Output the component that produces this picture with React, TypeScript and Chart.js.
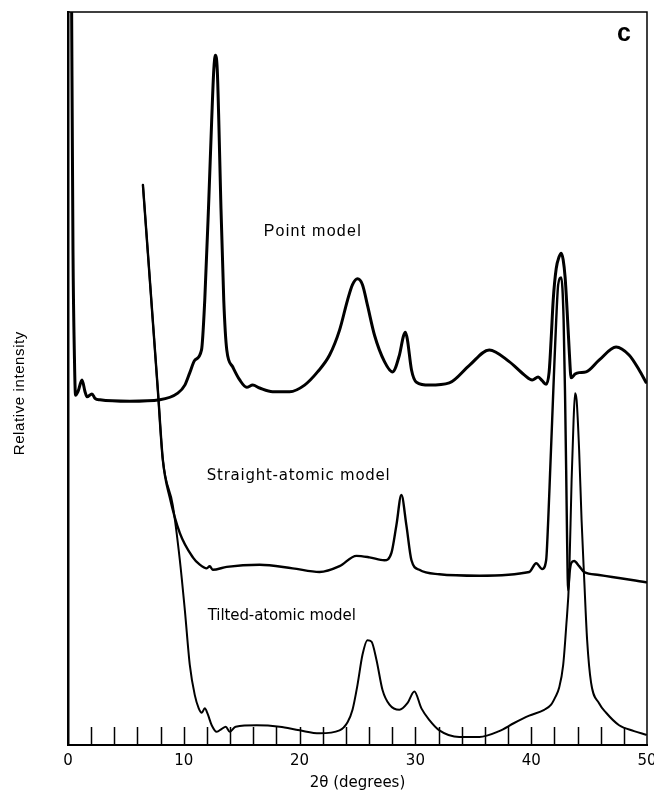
import React, { useEffect, useRef } from 'react';
import { Chart, registerables } from 'chart.js';

Chart.register(...registerables);

// ---- Data (2θ in degrees, relative intensity in arbitrary units 0–100) ----
const pointX = [0.30, 0.43, 0.56, 0.65, 0.86, 1.21, 1.47, 1.64, 2.07, 2.33, 2.76, 5.34, 7.93, 9.48, 10.09, 10.52, 10.95, 11.53, 11.81, 12.16, 12.41, 12.59, 12.73, 12.89, 13.02, 13.19, 13.45, 13.71, 14.22, 14.83, 15.43, 15.95, 16.55, 17.67, 19.14, 20.43, 21.55, 22.59, 23.45, 24.14, 24.57, 25.00, 25.43, 25.86, 26.47, 27.33, 28.02, 28.62, 28.97, 29.14, 29.31, 29.66, 30.09, 31.21, 32.93, 34.66, 36.38, 38.10, 39.40, 40.09, 40.60, 40.95, 41.29, 41.55, 41.72, 41.90, 42.16, 42.41, 42.59, 42.76, 42.93, 43.10, 43.28, 43.45, 43.79, 44.14, 44.74, 45.86, 47.33, 48.45, 49.31, 49.91];
const pointY = [104.4, 67.5, 52.5, 47.7, 48.2, 49.8, 48.2, 47.5, 47.9, 47.3, 47.1, 46.9, 47.1, 48.0, 49.1, 50.8, 52.5, 53.9, 60.7, 74.4, 85.3, 92.1, 94.1, 92.1, 85.3, 74.4, 60.7, 53.9, 51.6, 49.8, 48.8, 49.1, 48.7, 48.2, 48.2, 49.1, 50.9, 53.2, 56.6, 60.7, 62.8, 63.6, 62.8, 60.0, 55.9, 52.3, 50.9, 53.2, 55.8, 56.3, 55.3, 51.2, 49.5, 49.1, 49.4, 51.8, 53.9, 52.3, 50.5, 49.8, 50.2, 49.7, 49.2, 50.9, 55.3, 60.7, 65.0, 66.6, 67.1, 66.2, 63.8, 59.3, 53.9, 50.1, 50.6, 50.8, 50.9, 52.5, 54.3, 53.2, 51.2, 49.5];

const straightX = [6.47, 7.76, 8.19, 8.79, 9.66, 10.78, 11.38, 11.98, 12.24, 12.50, 13.71, 16.55, 19.40, 21.72, 23.45, 24.91, 26.03, 27.33, 27.93, 28.36, 28.79, 29.22, 29.66, 30.34, 32.07, 35.52, 39.83, 40.43, 40.95, 41.29, 41.47, 41.64, 41.81, 41.98, 42.16, 42.33, 42.59, 42.80, 42.93, 43.02, 43.10, 43.19, 43.32, 43.45, 43.71, 44.14, 44.57, 45.86, 49.91];
const straightY = [76.4, 48.4, 38.9, 33.8, 28.9, 25.6, 24.6, 24.1, 24.4, 23.9, 24.3, 24.6, 24.1, 23.6, 24.4, 25.8, 25.6, 25.2, 26.2, 30.0, 34.1, 30.0, 25.2, 23.9, 23.3, 23.1, 23.6, 24.8, 24.0, 25.2, 30.7, 37.5, 44.3, 51.2, 58.0, 62.8, 63.8, 58.0, 47.1, 37.5, 28.0, 21.1, 23.6, 24.8, 25.1, 24.4, 23.6, 23.2, 22.2];

const tiltedX = [6.47, 7.76, 8.19, 9.05, 9.66, 10.09, 10.52, 10.95, 11.29, 11.55, 11.81, 12.07, 12.41, 12.84, 13.28, 13.62, 13.97, 14.48, 16.29, 18.28, 20.00, 21.72, 23.45, 24.14, 24.57, 25.00, 25.43, 25.86, 26.21, 26.64, 27.16, 27.76, 28.62, 29.31, 29.91, 30.52, 31.21, 32.07, 33.79, 35.52, 37.24, 38.53, 39.83, 41.12, 41.72, 42.07, 42.41, 42.76, 43.02, 43.28, 43.49, 43.66, 43.79, 43.92, 44.14, 44.35, 44.57, 44.83, 45.17, 45.86, 46.47, 47.59, 48.88, 49.91];
const tiltedY = [76.4, 48.4, 38.9, 32.7, 25.2, 18.4, 10.9, 6.8, 5.0, 4.4, 5.0, 4.2, 2.7, 1.8, 2.2, 2.5, 1.8, 2.5, 2.7, 2.5, 2.0, 1.6, 2.0, 3.1, 4.8, 8.2, 12.3, 14.3, 14.1, 11.6, 7.5, 5.5, 4.8, 5.7, 7.3, 5.0, 3.4, 2.0, 1.1, 1.1, 1.9, 3.0, 4.0, 4.8, 5.5, 6.5, 7.8, 10.9, 16.1, 22.9, 36.2, 44.3, 48.0, 47.1, 40.2, 30.7, 22.9, 14.3, 8.5, 5.7, 4.4, 2.7, 1.9, 1.4];

const majorTicks = [0, 10, 20, 30, 40, 50];
const minorTicks = [2, 4, 6, 8, 10, 12, 14, 16, 18, 20, 22, 24, 26, 28, 30, 32, 34, 36, 38, 40, 42, 44, 46, 48];

const seriesLabels = ['Point model', 'Straight-atomic model', 'Tilted-atomic model'];
const panelLabel = 'c';
const xTitle = '2θ (degrees)';
const yTitle = 'Relative intensity';

// ---- Styling / label placement (not data) ----
const labelPlacement = [
  { x: 16.9, y: 70.0, font: '16px "Liberation Sans"', width: 97 },
  { x: 11.98, y: 36.7, font: '15px "DejaVu Sans"', width: 183 },
  { x: 12.07, y: 17.6, font: '15px "DejaVu Sans"', width: 148 },
];

const toXY = (xs: number[], ys: number[]) => xs.map((x, i) => ({ x, y: ys[i] }));

const framePlugin = {
  id: 'frameAndLabels',
  afterDraw(chart: any) {
    const { ctx, chartArea: a, scales } = chart;
    const xs = scales.x;
    const ys = scales.y;
    ctx.save();
    ctx.strokeStyle = '#000';
    ctx.lineWidth = 1.5;
    ctx.beginPath();
    ctx.moveTo(a.left, a.top);
    ctx.lineTo(a.right, a.top);
    ctx.lineTo(a.right, a.bottom);
    ctx.stroke();

    ctx.beginPath();
    ctx.lineWidth = 1.5;
    for (const v of minorTicks) {
      const px = Math.round(xs.getPixelForValue(v)) + 0.5;
      ctx.moveTo(px, a.bottom);
      ctx.lineTo(px, a.bottom - 18);
    }
    ctx.stroke();

    ctx.fillStyle = '#000';
    ctx.textBaseline = 'middle';
    ctx.textAlign = 'left';
    labelPlacement.forEach((p, i) => {
      const text = seriesLabels[i];
      ctx.font = p.font;
      (ctx as any).letterSpacing = '0px';
      const w = ctx.measureText(text).width;
      const sp = (p.width - w) / Math.max(1, text.length - 1);
      (ctx as any).letterSpacing = sp.toFixed(2) + 'px';
      ctx.fillText(text, xs.getPixelForValue(p.x), ys.getPixelForValue(p.y));
    });
    (ctx as any).letterSpacing = '0px';
    ctx.font = 'bold 25px "Liberation Sans"';
    ctx.textAlign = 'center';
    ctx.fillText(panelLabel, xs.getPixelForValue(48.0), ys.getPixelForValue(97.0));

    // y-axis title, centred slightly below the plot middle as in the original
    ctx.save();
    ctx.translate(20, ys.getPixelForValue(48.0));
    ctx.rotate(-Math.PI / 2);
    ctx.font = '15px "Liberation Sans"';
    (ctx as any).letterSpacing = '0.6px';
    ctx.fillText(yTitle, 0, 0);
    ctx.restore();
    ctx.restore();
  },
};

export default function App() {
  const ref = useRef<HTMLCanvasElement | null>(null);

  useEffect(() => {
    document.body.style.margin = '0';
    const canvas = ref.current;
    if (!canvas) return;
    const lineCommon = {
      borderColor: '#000',
      backgroundColor: '#000',
      pointRadius: 0,
      fill: false,
      cubicInterpolationMode: 'monotone' as const,
      borderJoinStyle: 'round' as const,
      borderCapStyle: 'round' as const,
    };
    const chart = new Chart(canvas, {
      type: 'line',
      data: {
        datasets: [
          { ...lineCommon, label: seriesLabels[0], data: toXY(pointX, pointY), borderWidth: 3 },
          { ...lineCommon, label: seriesLabels[1], data: toXY(straightX, straightY), borderWidth: 2.4 },
          { ...lineCommon, label: seriesLabels[2], data: toXY(tiltedX, tiltedY), borderWidth: 2 },
        ],
      },
      options: {
        animation: false,
        responsive: false,
        maintainAspectRatio: false,
        layout: { padding: { top: 12, right: 7, left: 0, bottom: 0 } },
        plugins: { legend: { display: false }, tooltip: { enabled: false } },
        scales: {
          x: {
            type: 'linear',
            min: 0,
            max: 50,
            afterBuildTicks: (s: any) => {
              s.ticks = majorTicks.map((v) => ({ value: v }));
            },
            ticks: {
              color: '#000',
              padding: 7,
              maxRotation: 0,
              font: { family: '"DejaVu Sans"', size: 15 },
            },
            grid: { display: false, drawTicks: false },
            border: { display: true, color: '#000', width: 2 },
            title: {
              display: true,
              text: xTitle,
              color: '#000',
              font: { family: '"DejaVu Sans"', size: 15 },
              padding: { top: 0, bottom: 0 },
            },
            afterFit: (s: any) => {
              s.height = 47;
              s.paddingLeft = 0;
              s.paddingRight = 0;
            },
          },
          y: {
            type: 'linear',
            min: 0,
            max: 100,
            ticks: { display: false },
            grid: { display: false, drawTicks: false },
            border: { display: true, color: '#000', width: 2.5 },
            title: { display: false, text: yTitle },
            afterFit: (s: any) => {
              s.width = 68;
              s.paddingTop = 0;
              s.paddingBottom = 0;
            },
          },
        },
      },
      plugins: [framePlugin],
    });
    return () => chart.destroy();
  }, []);

  return (
    <div style={{ width: 654, height: 792, background: '#fff' }}>
      <canvas ref={ref} width={654} height={792} style={{ display: 'block', width: 654, height: 792 }} />
    </div>
  );
}
